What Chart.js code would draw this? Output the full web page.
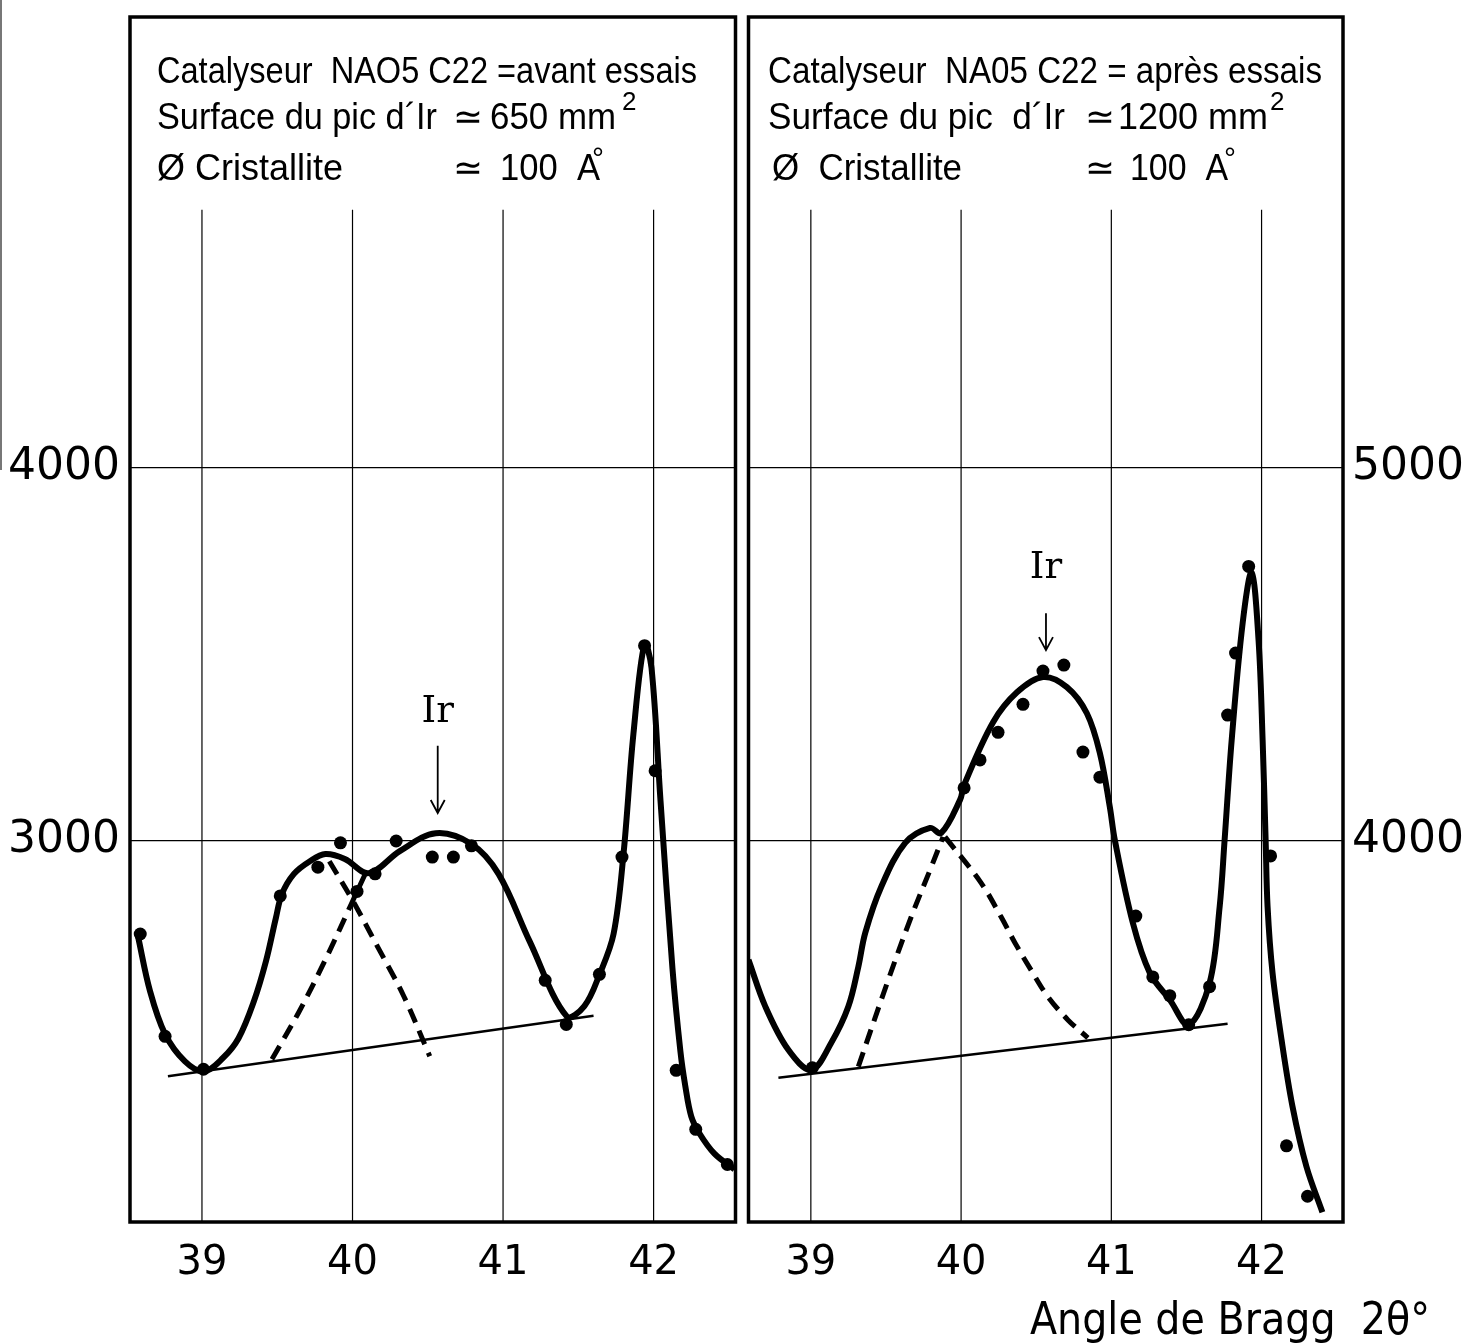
<!DOCTYPE html>
<html>
<head>
<meta charset="utf-8">
<script src="https://cdn.jsdelivr.net/npm/chart.js@4/dist/chart.umd.min.js"></script>
<style>
  body { margin: 0; background: #fff; }
  #wrap { position: relative; width: 1466px; height: 1343px; overflow: hidden; }
  canvas { position: absolute; top: 0; }
  #left { left: 0; }
  #right { left: 742px; }
  #edge { position: absolute; left: 0; top: 0; width: 2px; height: 470px; background: #777; }
</style>
</head>
<body>
<div id="wrap">
  <div id="edge"></div>
  <canvas id="left" width="742" height="1343"></canvas>
  <canvas id="right" width="724" height="1343"></canvas>
</div>
<script>
// tick labels
const xTicks = [39, 40, 41, 42];
const leftYTicks = [3000, 4000];
const rightYTicks = [4000, 5000];

// left panel : avant essais
const leftDotsX = [38.59, 38.755, 39.01, 39.52, 39.77, 39.92, 40.03, 40.15, 40.29, 40.53, 40.67, 40.79, 41.28, 41.42, 41.64, 41.79, 41.94, 42.01, 42.15, 42.28, 42.49];
const leftDotsY = [2751, 2477, 2389, 2853, 2930, 2995, 2865, 2912, 3000, 2957, 2957, 2987, 2627, 2509, 2643, 2957, 3523, 3188, 2386, 2228, 2134];
const leftCurveX = [38.575, 38.655, 38.755, 38.887, 39.013, 39.139, 39.243, 39.345, 39.425, 39.491, 39.531, 39.611, 39.717, 39.82, 39.949, 40.108, 40.314, 40.553, 40.79, 40.97, 41.176, 41.422, 41.54, 41.641, 41.734, 41.8, 41.866, 41.94, 41.986, 42.046, 42.125, 42.178, 42.211, 42.25, 42.305, 42.404, 42.537];
const leftCurveY = [2745, 2598, 2483, 2410, 2383, 2419, 2472, 2571, 2678, 2794, 2858, 2912, 2946, 2965, 2952, 2914, 2973, 3021, 2992, 2912, 2732, 2531, 2558, 2643, 2751, 2965, 3287, 3528, 3464, 3107, 2660, 2437, 2343, 2263, 2217, 2163, 2121];
const leftDashAX = [39.465, 39.637, 39.816, 40.002, 40.088];
const leftDashAY = [2416, 2537, 2679, 2840, 2915];
const leftDashBX = [39.846, 40.002, 40.168, 40.34, 40.513];
const leftDashBY = [2946, 2840, 2716, 2585, 2424];
const leftBaseX = [38.774, 41.601];
const leftBaseY = [2370, 2532];

// right panel : après essais
const rightDotsX = [39.01, 40.02, 40.126, 40.246, 40.412, 40.545, 40.684, 40.811, 40.924, 41.163, 41.276, 41.389, 41.515, 41.654, 41.774, 41.827, 41.914, 42.06, 42.166, 42.306];
const rightDotsY = [3393, 4142, 4217, 4291, 4366, 4455, 4471, 4238, 4171, 3799, 3636, 3586, 3508, 3610, 4337, 4503, 4735, 3960, 3184, 3049];
const rightCurveX = [38.585, 38.698, 38.85, 39.003, 39.136, 39.249, 39.316, 39.362, 39.468, 39.628, 39.794, 39.867, 39.993, 40.02, 40.213, 40.372, 40.545, 40.704, 40.837, 40.924, 40.99, 41.023, 41.143, 41.256, 41.389, 41.515, 41.654, 41.721, 41.754, 41.801, 41.874, 41.934, 41.98, 42.007, 42.027, 42.04, 42.073, 42.133, 42.206, 42.299, 42.405];
const rightCurveY = [3682, 3556, 3441, 3387, 3460, 3556, 3663, 3754, 3877, 3995, 4035, 4021, 4110, 4150, 4318, 4398, 4439, 4412, 4342, 4235, 4091, 4003, 3781, 3647, 3575, 3508, 3620, 3824, 4003, 4270, 4583, 4719, 4537, 4270, 4003, 3824, 3647, 3468, 3289, 3128, 3006];
const rightDashAX = [39.316, 39.515, 39.668, 39.801, 39.88];
const rightDashAY = [3396, 3628, 3797, 3930, 4011];
const rightDashBX = [39.893, 40.133, 40.266, 40.359, 40.465, 40.578, 40.711, 40.844];
const rightDashBY = [4011, 3888, 3797, 3727, 3655, 3583, 3521, 3473];
const rightBaseX = [38.784, 41.774];
const rightBaseY = [3366, 3511];

const FONT = '"DejaVu Sans", sans-serif';
const TEXT_FONT = '"Liberation Sans", "DejaVu Sans", sans-serif';
const pts = (xs, ys) => xs.map((x, i) => ({ x, y: ys[i] }));

const panelPlugin = {
  id: 'panel',
  beforeDatasetsDraw(chart, args, opts) {
    const { ctx, chartArea: a, scales: { x, y } } = chart;
    ctx.save();
    ctx.strokeStyle = '#000';
    ctx.lineWidth = 1.2;
    const top = y.getPixelForValue(opts.gridTop);
    xTicks.forEach((v) => {
      const px = x.getPixelForValue(v);
      ctx.beginPath();
      ctx.moveTo(px, top);
      ctx.lineTo(px, a.bottom);
      ctx.stroke();
    });
    ctx.restore();
  },
  afterDraw(chart, args, opts) {
    const { ctx, chartArea: a, scales: { x, y } } = chart;
    ctx.save();
    ctx.strokeStyle = '#000';
    ctx.fillStyle = '#000';
    ctx.lineWidth = 3.5;
    ctx.strokeRect(a.left, a.top, a.right - a.left, a.bottom - a.top);

    // texte en haut
    ctx.textBaseline = 'alphabetic';
    ctx.textAlign = 'left';
    opts.texts.forEach((t) => {
      ctx.font = `${t.size || 37}px ${TEXT_FONT}`;
      ctx.fillText(t.text, t.x, t.y, t.w);
    });

    // Ir + flèche
    const ax = x.getPixelForValue(opts.ir.x);
    ctx.font = `37px "DejaVu Serif", serif`;
    ctx.textAlign = 'center';
    ctx.fillText('Ir', ax, y.getPixelForValue(opts.ir.textY));
    const y1 = y.getPixelForValue(opts.ir.top);
    const y2 = y.getPixelForValue(opts.ir.bottom);
    ctx.lineWidth = 1.8;
    ctx.beginPath();
    ctx.moveTo(ax, y1);
    ctx.lineTo(ax, y2);
    ctx.moveTo(ax - 7, y2 - 13);
    ctx.lineTo(ax, y2);
    ctx.lineTo(ax + 7, y2 - 13);
    ctx.stroke();

    if (opts.title) {
      ctx.font = `44px ${FONT}`;
      ctx.textAlign = 'right';
      ctx.fillText(opts.title.text, opts.title.x, opts.title.y, opts.title.w);
    }
    ctx.restore();
  },
};

function makeChart(id, d) {
  const line = { showLine: true, pointRadius: 0, borderColor: '#000', tension: 0.35 };
  return new Chart(document.getElementById(id), {
    type: 'scatter',
    data: {
      datasets: [
        { data: pts(d.dotsX, d.dotsY), pointRadius: 6.5, pointBackgroundColor: '#000', pointBorderWidth: 0, showLine: false },
        { ...line, data: pts(d.curveX, d.curveY), borderWidth: 6 },
        { ...line, data: pts(d.dashAX, d.dashAY), borderWidth: 5, borderDash: [15, 9] },
        { ...line, data: pts(d.dashBX, d.dashBY), borderWidth: 5, borderDash: [15, 9] },
        { ...line, data: pts(d.baseX, d.baseY), borderWidth: 2.5, tension: 0 },
      ],
    },
    options: {
      responsive: false,
      animation: false,
      devicePixelRatio: 1,
      layout: { padding: d.padding },
      plugins: {
        legend: { display: false },
        tooltip: { enabled: false },
        panel: d.panel,
      },
      scales: {
        x: {
          type: 'linear',
          min: d.xMin,
          max: d.xMax,
          afterBuildTicks: (s) => { s.ticks = xTicks.map((v) => ({ value: v })); },
          afterFit: (s) => { s.height = 121; s.paddingLeft = 0; s.paddingRight = 0; },
          grid: { display: false },
          border: { display: false },
          ticks: { color: '#000', font: { family: FONT, size: 40 }, padding: 10, maxRotation: 0 },
        },
        y: {
          type: 'linear',
          position: d.yPos,
          min: d.yMin,
          max: d.yMax,
          afterBuildTicks: (s) => { s.ticks = d.yTicks.map((v) => ({ value: v })); },
          afterFit: (s) => { s.width = d.yWidth; s.paddingTop = 0; s.paddingBottom = 0; },
          grid: { color: '#000', lineWidth: 1.2, drawTicks: false },
          border: { display: false },
          ticks: { color: '#000', font: { family: FONT, size: 44 }, padding: d.yPad, callback: (v) => String(v) },
        },
      },
    },
    plugins: [panelPlugin],
  });
}

makeChart('left', {
  dotsX: leftDotsX, dotsY: leftDotsY, curveX: leftCurveX, curveY: leftCurveY,
  dashAX: leftDashAX, dashAY: leftDashAY, dashBX: leftDashBX, dashBY: leftDashBY,
  baseX: leftBaseX, baseY: leftBaseY,
  xMin: 38.522, xMax: 42.544, yMin: 1980, yMax: 5206, yTicks: leftYTicks,
  yPos: 'left', yWidth: 130, yPad: 10,
  padding: { left: 0, right: 6, top: 17, bottom: 0 },
  panel: {
    gridTop: 4690,
    ir: { x: 40.566, textY: 3319, top: 3255, bottom: 3075 },
    texts: [
      { text: 'Catalyseur  NAO5 C22 =avant essais', x: 157, y: 83, w: 540 },
      { text: 'Surface du pic d\u00b4Ir', x: 157, y: 129, w: 280 },
      { text: '\u2243', x: 453, y: 129, w: 30 },
      { text: '650 mm', x: 490, y: 129, w: 126 },
      { text: '2', x: 622, y: 110, w: 20, size: 26 },
      { text: '\u00d8 Cristallite', x: 157, y: 180, w: 186 },
      { text: '\u2243', x: 453, y: 180, w: 30 },
      { text: '100  A', x: 500, y: 180, w: 100 },
      { text: '\u00b0', x: 592, y: 168, w: 20, size: 30 },
    ],
  },
});

makeChart('right', {
  dotsX: rightDotsX, dotsY: rightDotsY, curveX: rightCurveX, curveY: rightCurveY,
  dashAX: rightDashAX, dashAY: rightDashAY, dashBX: rightDashBX, dashBY: rightDashBY,
  baseX: rightBaseX, baseY: rightBaseY,
  xMin: 38.585, xMax: 42.542, yMin: 2980, yMax: 6206, yTicks: rightYTicks,
  yPos: 'right', yWidth: 123, yPad: 9,
  padding: { left: 6, right: 0, top: 17, bottom: 0 },
  panel: {
    gridTop: 5690,
    ir: { x: 40.565, textY: 4703, top: 4610, bottom: 4511 },
    texts: [
      { text: 'Catalyseur  NA05 C22 = apr\u00e8s essais', x: 26, y: 83, w: 554 },
      { text: 'Surface du pic  d\u00b4Ir', x: 26, y: 129, w: 297 },
      { text: '\u2243', x: 343, y: 129, w: 30 },
      { text: '1200 mm', x: 376, y: 129, w: 150 },
      { text: '2', x: 528, y: 110, w: 20, size: 26 },
      { text: '\u00d8  Cristallite', x: 30, y: 180, w: 190 },
      { text: '\u2243', x: 343, y: 180, w: 30 },
      { text: '100  A', x: 388, y: 180, w: 98 },
      { text: '\u00b0', x: 482, y: 168, w: 20, size: 30 },
    ],
    title: { text: 'Angle de Bragg  2\u03b8\u00b0', x: 688, y: 1334, w: 400 },
  },
});
</script>
</body>
</html>
